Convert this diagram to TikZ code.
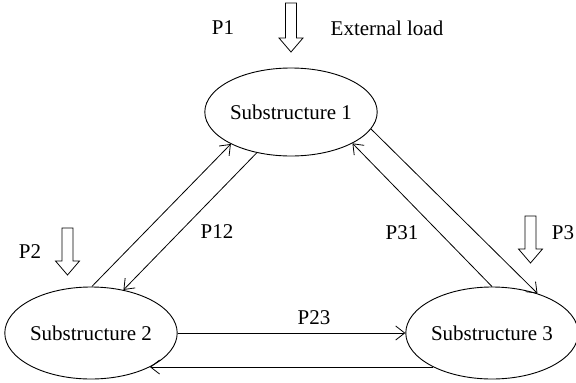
\documentclass[tikz,border=0pt]{standalone}
\usepackage{fontspec}
\setmainfont{Liberation Serif}
\usetikzlibrary{shapes.geometric,arrows.meta}
\tikzset{
  sub/.style={ellipse, draw, line width=0.9pt, minimum width=167pt, minimum height=92pt, inner sep=0pt, font=\fontsize{21}{23}\selectfont},
  sub1/.style={sub, minimum height=88pt},
  lbl/.style={inner sep=0pt, font=\fontsize{21}{23}\selectfont},
  conn/.style={line width=0.8pt, -{Straight Barb[length=9pt,width=14pt,line width=0.8pt]}},
  load/.style={line width=0.8pt, line join=miter}
}
\newcommand{\loadarrow}[3]{% x, top, tip
  \draw[load] (#1-5.5,#2) -- (#1+5.5,#2) -- (#1+5.5,#3-14) -- (#1+12,#3-14) -- (#1,#3) -- (#1-12,#3-14) -- (#1-5.5,#3-14) -- cycle;}
\begin{document}
\begin{tikzpicture}[x=1pt,y=-1pt]
\useasboundingbox (0,0) rectangle (576,383);
\node[sub1] (s1) at (291,112) {Substructure 1};
\node[sub] (s2) at (91,333) {Substructure 2};
\node[sub] (s3) at (492,333) {Substructure 3};

\draw[conn] (s2.89) -- (s1.208);
\draw[conn] (s1.230) -- (s2.53);
\draw[conn] (s3.90) -- (s1.333);
\draw[conn] (s1.348) -- (s3.41);
\draw[conn] (s2.east) -- (s3.west);
\draw[conn] (s3.210) -- (s2.330);

\loadarrow{291}{3}{52}
\loadarrow{67.5}{228}{275}
\loadarrow{530.5}{216}{263}

\node[lbl] (p1) at (223,28) {P1};
\node[lbl] (ext) at (387,28) {External load};
\node[lbl] (p2) at (30,252) {P2};
\node[lbl] (p3) at (563,233) {P3};
\node[lbl] (p12) at (217,232) {P12};
\node[lbl] (p31) at (402,233) {P31};
\node[lbl] (p23) at (314,318) {P23};
\end{tikzpicture}
\end{document}
